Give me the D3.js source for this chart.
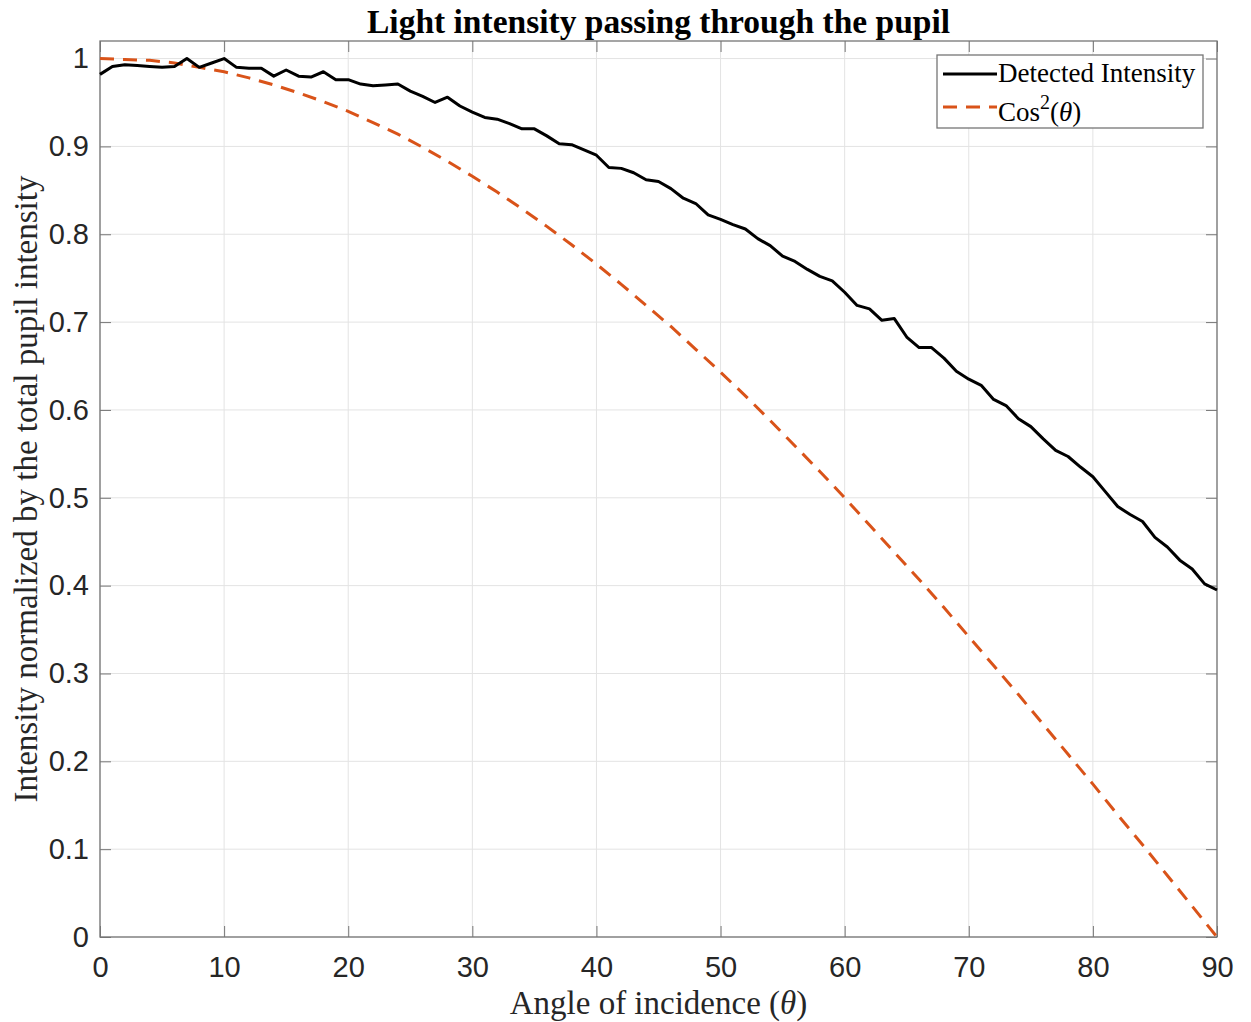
<!DOCTYPE html>
<html>
<head>
<meta charset="utf-8">
<script src="https://cdn.jsdelivr.net/npm/d3@7"></script>
<style>
  body { margin: 0; background: #fff; }
  svg { display: block; }
</style>
</head>
<body>
<svg width="1251" height="1022"></svg>
<script>
// detected intensity, one sample per degree
var detectedAngles = [0,1,2,3,4,5,6,7,8,9,10,11,12,13,14,15,16,17,18,19,20,21,22,23,24,25,26,27,28,29,30,
  31,32,33,34,35,36,37,38,39,40,41,42,43,44,45,46,47,48,49,50,51,52,53,54,55,56,57,58,59,60,
  61,62,63,64,65,66,67,68,69,70,71,72,73,74,75,76,77,78,79,80,81,82,83,84,85,86,87,88,89,90];
var detectedValues = [0.982,0.991,0.993,0.992,0.991,0.990,0.991,1.000,0.990,0.995,1.000,
  0.990,0.989,0.989,0.980,0.987,0.980,0.979,0.985,0.976,0.976,
  0.971,0.969,0.970,0.971,0.963,0.957,0.950,0.956,0.946,0.939,
  0.933,0.931,0.926,0.920,0.920,0.912,0.903,0.902,0.896,0.890,
  0.876,0.875,0.870,0.862,0.860,0.852,0.841,0.835,0.822,0.817,
  0.811,0.806,0.795,0.787,0.775,0.769,0.760,0.752,0.747,0.734,
  0.719,0.715,0.702,0.704,0.683,0.671,0.671,0.659,0.644,0.635,
  0.628,0.612,0.605,0.590,0.581,0.567,0.554,0.547,0.535,0.524,
  0.507,0.490,0.481,0.473,0.455,0.444,0.429,0.419,0.402,0.395];

// reference curve (dashed), read every 2 degrees
var refAngles = [0,2,4,6,8,10,12,14,16,18,20,22,24,26,28,30,32,34,36,38,40,42,44,
  46,48,50,52,54,56,58,60,62,64,66,68,70,72,74,76,78,80,82,84,86,88,90];
var refValues = [1.000,0.999,0.998,0.995,0.990,0.985,0.978,0.970,0.961,0.951,0.940,0.927,0.914,
  0.899,0.883,0.866,0.848,0.829,0.809,0.788,0.766,0.743,0.719,0.695,0.669,0.643,0.616,
  0.588,0.559,0.530,0.500,0.469,0.438,0.407,0.375,0.342,0.309,0.276,0.242,0.208,0.174,
  0.139,0.105,0.070,0.035,0.000];

var xTicks = [0,10,20,30,40,50,60,70,80,90];
var yTicks = [0,0.1,0.2,0.3,0.4,0.5,0.6,0.7,0.8,0.9,1];

var seriesNames = ["Detected Intensity", "Cos"];

var svg = d3.select("svg"),
    plotLeft = 100, plotRight = 1217, plotTop = 41, plotBottom = 937,
    tickLen = 11,
    sans = "'Liberation Sans', Arial, sans-serif",
    serif = "'Liberation Serif', 'Times New Roman', serif";

var x = d3.scaleLinear().domain([0, 90]).range([plotLeft, plotRight]);
var y = d3.scaleLinear().domain([0, 1.02]).range([plotBottom, plotTop]);

// grid
var grid = svg.append("g").attr("stroke", "#e3e3e3").attr("stroke-width", 1);
grid.selectAll(".gx").data(xTicks).enter().append("line")
    .attr("x1", function(d) { return x(d); }).attr("x2", function(d) { return x(d); })
    .attr("y1", plotTop).attr("y2", plotBottom);
grid.selectAll(".gy").data(yTicks).enter().append("line")
    .attr("x1", plotLeft).attr("x2", plotRight)
    .attr("y1", function(d) { return y(d); }).attr("y2", function(d) { return y(d); });

function styleAxis(g, showText) {
  g.select(".domain").remove();
  g.selectAll(".tick line").attr("stroke", "#767676");
  g.selectAll(".tick text")
      .attr("fill", "#262626")
      .style("font-family", sans)
      .style("font-size", "29px");
  if (!showText) g.selectAll(".tick text").remove();
}

svg.append("g").attr("transform", "translate(0," + plotBottom + ")")
    .call(d3.axisBottom(x).tickValues(xTicks).tickSize(-tickLen).tickPadding(19).tickFormat(d3.format("d")))
    .call(styleAxis, true);
svg.append("g").attr("transform", "translate(0," + plotTop + ")")
    .call(d3.axisTop(x).tickValues(xTicks).tickSize(-tickLen))
    .call(styleAxis, false);
svg.append("g").attr("transform", "translate(" + plotLeft + ",0)")
    .call(d3.axisLeft(y).tickValues(yTicks).tickSize(-tickLen).tickPadding(11).tickFormat(d3.format("~g")))
    .call(styleAxis, true);
svg.append("g").attr("transform", "translate(" + plotRight + ",0)")
    .call(d3.axisRight(y).tickValues(yTicks).tickSize(-tickLen))
    .call(styleAxis, false);

svg.append("rect")
    .attr("x", plotLeft).attr("y", plotTop)
    .attr("width", plotRight - plotLeft).attr("height", plotBottom - plotTop)
    .attr("fill", "none").attr("stroke", "#767676").attr("stroke-width", 1.3);

// curves
var line = d3.line()
    .x(function(d) { return x(d[0]); })
    .y(function(d) { return y(d[1]); });

svg.append("path")
    .datum(refAngles.map(function(a, i) { return [a, refValues[i]]; }))
    .attr("d", line)
    .attr("fill", "none").attr("stroke", "#D95319").attr("stroke-width", 3)
    .attr("stroke-dasharray", "14,9");

svg.append("path")
    .datum(detectedAngles.map(function(a, i) { return [a, detectedValues[i]]; }))
    .attr("d", line)
    .attr("fill", "none").attr("stroke", "#000").attr("stroke-width", 3)
    .attr("stroke-linejoin", "round");

// title and labels
svg.append("text")
    .attr("x", (plotLeft + plotRight) / 2).attr("y", 33)
    .attr("text-anchor", "middle")
    .style("font-family", serif).style("font-size", "33.5px").style("font-weight", "bold")
    .text("Light intensity passing through the pupil");

var xl = svg.append("text")
    .attr("x", (plotLeft + plotRight) / 2).attr("y", 1014)
    .attr("text-anchor", "middle")
    .style("font-family", serif).style("font-size", "33px").attr("fill", "#262626");
xl.append("tspan").text("Angle of incidence (");
xl.append("tspan").style("font-style", "italic").text("θ");
xl.append("tspan").text(")");

svg.append("text")
    .attr("transform", "translate(37," + (plotTop + plotBottom) / 2 + ") rotate(-90)")
    .attr("text-anchor", "middle")
    .style("font-family", serif).style("font-size", "33px").attr("fill", "#262626")
    .text("Intensity normalized by the total pupil intensity");

// legend
var lg = svg.append("g");
lg.append("rect")
    .attr("x", 937).attr("y", 55).attr("width", 266).attr("height", 73)
    .attr("fill", "#fff").attr("stroke", "#767676").attr("stroke-width", 1.3);
lg.append("line")
    .attr("x1", 943).attr("x2", 997).attr("y1", 74).attr("y2", 74)
    .attr("stroke", "#000").attr("stroke-width", 3);
lg.append("line")
    .attr("x1", 943).attr("x2", 997).attr("y1", 107).attr("y2", 107)
    .attr("stroke", "#D95319").attr("stroke-width", 3).attr("stroke-dasharray", "14,9");
lg.append("text")
    .attr("x", 998).attr("y", 82)
    .style("font-family", serif).style("font-size", "27px")
    .text(seriesNames[0]);
var t2 = lg.append("text")
    .attr("x", 998).attr("y", 121)
    .style("font-family", serif).style("font-size", "27px");
t2.append("tspan").text(seriesNames[1]);
t2.append("tspan").attr("dy", -12).style("font-size", "20px").text("2");
t2.append("tspan").attr("dy", 12).text("(");
t2.append("tspan").style("font-style", "italic").text("θ");
t2.append("tspan").text(")");
</script>
</body>
</html>
